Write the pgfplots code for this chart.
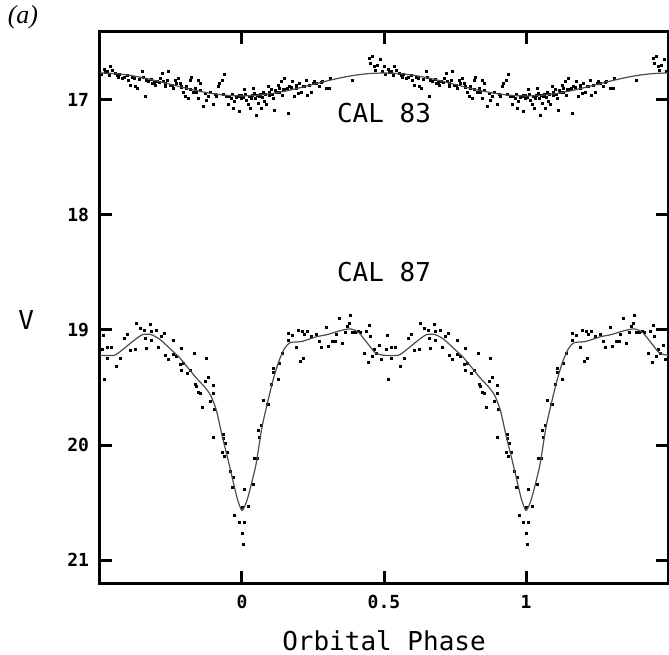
\documentclass[border=0pt]{standalone}
\usepackage{fontspec}
\setmainfont{DejaVu Sans Mono}
\newfontfamily\serifit{Liberation Serif}
\usepackage{pgfplots}
\usepackage{pgfplotstable}
\pgfplotsset{compat=1.18}

% one orbital cycle of each star, plotted twice (phase and phase+1)
\pgfplotstableread{
p m
-0.486 16.73
-0.463 16.71
-0.457 16.74
-0.474 16.75
-0.434 16.80
-0.422 16.81
-0.399 16.83
-0.393 16.87
-0.375 16.88
-0.369 16.90
-0.387 16.80
-0.352 16.75
-0.346 16.80
-0.340 16.97
-0.329 16.84
-0.317 16.86
-0.305 16.87
-0.299 16.84
-0.288 16.81
-0.282 16.77
-0.276 16.84
-0.270 16.88
-0.264 16.83
-0.259 16.75
-0.253 16.87
-0.241 16.90
-0.235 16.83
-0.224 16.81
-0.218 16.86
-0.212 16.88
-0.206 16.93
-0.201 16.97
-0.195 16.90
-0.189 16.99
-0.183 16.83
-0.177 16.80
-0.171 16.93
-0.159 16.93
-0.154 16.83
-0.148 16.86
-0.154 16.99
-0.136 17.06
-0.125 17.00
-0.119 16.97
-0.101 17.04
-0.084 16.88
-0.078 16.86
-0.070 16.83
-0.061 16.78
-0.055 16.97
-0.049 17.04
-0.038 16.99
-0.032 17.07
-0.026 17.01
-0.014 16.97
-0.008 17.10
-0.002 16.99
-0.001 16.96
0.010 16.91
0.016 17.00
0.022 17.04
0.028 17.07
0.034 16.99
0.040 16.90
0.045 16.94
0.051 17.13
0.057 17.03
0.063 16.97
0.069 17.07
0.075 16.93
0.080 17.01
0.086 17.04
0.092 16.88
0.098 16.96
0.104 16.91
0.110 16.99
0.115 17.09
0.121 16.93
0.127 16.87
0.133 16.90
0.139 16.84
0.144 16.96
0.150 16.81
0.156 16.91
0.162 17.12
0.168 16.88
0.179 16.84
0.185 16.97
0.191 16.87
0.197 16.94
0.203 16.86
0.209 16.93
0.220 16.88
0.226 16.83
0.232 16.96
0.238 16.87
0.244 16.93
0.255 16.84
0.261 16.86
0.273 16.88
0.284 16.84
0.296 16.90
0.308 16.90
0.311 16.81
0.389 16.83
0.448 16.64
0.453 16.68
0.459 16.62
0.465 16.71
0.477 16.70
0.488 16.65
0.500 16.71
-0.495 16.78
-0.480 16.76
-0.468 16.79
-0.445 16.77
-0.440 16.79
-0.430 16.78
-0.415 16.80
-0.405 16.79
-0.380 16.81
-0.360 16.82
-0.335 16.83
-0.320 16.82
-0.310 16.85
-0.290 16.85
-0.270 16.86
-0.245 16.87
-0.230 16.86
-0.215 16.89
-0.195 16.88
-0.180 16.91
-0.165 16.90
-0.145 16.92
-0.130 16.94
-0.110 16.93
-0.095 16.95
-0.090 16.97
-0.065 16.95
-0.045 16.97
-0.035 16.95
-0.020 16.98
-0.010 16.96
0.005 16.98
0.013 16.95
0.025 16.97
0.037 16.96
0.048 16.99
0.055 16.96
0.066 16.95
0.072 16.98
0.083 16.95
0.095 16.93
0.107 16.95
0.118 16.92
0.130 16.93
0.147 16.91
0.160 16.90
0.175 16.89
0.190 16.90
0.215 16.88
0.250 16.86
0.280 16.85
0.470 16.74
0.495 16.75
}\scatA

\pgfplotstableread{
p m
-0.490 19.17
-0.487 19.05
-0.485 19.43
-0.473 19.15
-0.473 19.25
-0.459 19.15
-0.444 19.32
-0.429 19.25
-0.415 19.07
-0.403 19.04
-0.392 19.18
-0.374 19.17
-0.371 18.94
-0.359 18.99
-0.345 19.00
-0.339 19.07
-0.336 19.16
-0.322 18.95
-0.318 19.01
-0.318 19.09
-0.301 19.00
-0.293 19.15
-0.284 19.06
-0.273 19.03
-0.269 19.22
-0.258 19.26
-0.243 19.09
-0.240 19.21
-0.231 19.23
-0.217 19.30
-0.215 19.35
-0.215 19.16
-0.205 19.29
-0.193 19.38
-0.182 19.35
-0.168 19.20
-0.164 19.47
-0.161 19.49
-0.153 19.54
-0.147 19.55
-0.141 19.67
-0.129 19.45
-0.124 19.25
-0.118 19.41
-0.112 19.62
-0.100 19.55
-0.100 19.48
-0.100 19.93
-0.098 19.69
-0.068 20.06
-0.065 19.91
-0.065 19.94
-0.063 20.10
-0.059 19.99
-0.053 20.06
-0.040 20.23
-0.034 20.37
-0.030 20.28
-0.025 20.61
-0.010 20.67
0.001 20.77
0.002 20.54
0.005 20.86
0.007 20.67
0.008 20.39
0.022 20.53
0.040 20.34
0.042 20.12
0.054 20.12
0.057 19.87
0.063 19.93
0.069 19.83
0.075 19.61
0.089 19.65
0.092 19.65
0.104 19.47
0.110 19.37
0.110 19.33
0.127 19.43
0.133 19.29
0.144 19.20
0.162 19.03
0.162 19.09
0.179 19.05
0.191 19.15
0.197 19.00
0.205 19.27
0.214 19.01
0.217 19.25
0.220 19.04
0.232 19.01
0.244 19.06
0.263 19.04
0.273 19.10
0.278 19.15
0.298 18.98
0.305 19.14
0.317 19.10
0.329 19.10
0.331 19.04
0.343 18.90
0.354 19.12
0.364 19.02
0.372 18.97
0.378 18.94
0.383 18.87
0.389 19.02
0.401 19.02
0.410 19.01
0.418 19.02
0.430 19.20
0.438 19.01
0.445 19.28
0.448 18.96
0.453 19.06
0.459 19.23
0.465 19.17
0.473 19.20
0.483 19.13
0.492 19.26
}\scatB

\pgfplotstableread{
p m
-0.50 16.765
-0.45 16.770
-0.40 16.784
-0.35 16.806
-0.30 16.834
-0.25 16.865
-0.20 16.896
-0.15 16.924
-0.10 16.946
-0.05 16.960
0.00 16.965
0.05 16.960
0.10 16.946
0.15 16.924
0.20 16.896
0.25 16.865
0.30 16.834
0.35 16.806
0.40 16.784
0.45 16.770
0.50 16.765
}\curveA

\pgfplotstableread{
p m
-0.50 19.22
-0.45 19.22
-0.42 19.17
-0.38 19.09
-0.35 19.04
-0.32 19.04
-0.29 19.08
-0.25 19.17
-0.22 19.24
-0.19 19.33
-0.16 19.42
-0.13 19.50
-0.11 19.57
-0.09 19.70
-0.07 19.92
-0.05 20.12
-0.03 20.33
-0.015 20.48
0.00 20.57
0.015 20.50
0.03 20.37
0.05 20.16
0.07 19.85
0.09 19.63
0.11 19.43
0.13 19.27
0.15 19.16
0.17 19.11
0.21 19.10
0.26 19.06
0.30 19.04
0.34 19.01
0.38 18.99
0.41 19.02
0.44 19.11
0.47 19.20
0.50 19.22
}\curveB

\begin{document}
\begin{tikzpicture}
\path[use as bounding box] (-50pt,-35.5pt) rectangle (284.5pt,291.5pt);
\begin{axis}[
    scale only axis,
    width=284pt, height=275.5pt,
    xmin=-0.5, xmax=1.5,
    ymin=16.409, ymax=21.2,
    y dir=reverse,
    clip mode=individual,
    xtick={0,0.5,1},
    ytick={17,18,19,20,21},
    tick align=inside,
    major tick length=6pt,
    every tick/.append style={black, line width=1.5pt},
    axis line style={line width=1.5pt},
    /pgf/number format/assume math mode=true,
    ticklabel style={font=\bfseries\fontsize{9}{10}\selectfont},
    xticklabel style={yshift=-2.5pt},
    yticklabel style={xshift=-2pt},
]
\addplot[only marks, mark=square*, mark size=0.5pt, black] table[x=p, y=m] {\scatA};
\addplot[only marks, mark=square*, mark size=0.5pt, black] table[x expr=\thisrow{p}+1, y=m] {\scatA};
\addplot[only marks, mark=square*, mark size=0.5pt, black] table[x=p, y=m] {\scatB};
\addplot[only marks, mark=square*, mark size=0.5pt, black] table[x expr=\thisrow{p}+1, y=m] {\scatB};

\addplot[no marks, black!70, line width=0.6pt, smooth] table[x=p, y=m] {\curveA};
\addplot[no marks, black!70, line width=0.6pt, smooth] table[x expr=\thisrow{p}+1, y=m] {\curveA};
\addplot[no marks, black!70, line width=0.6pt, smooth, tension=0.4] table[x=p, y=m] {\curveB};
\addplot[no marks, black!70, line width=0.6pt, smooth, tension=0.4] table[x expr=\thisrow{p}+1, y=m] {\curveB};

\node[font=\fontsize{13}{14}\selectfont] at (axis cs:0.5,17.11) {CAL 83};
\node[font=\fontsize{13}{14}\selectfont] at (axis cs:0.5,18.50) {CAL 87};
\node[font=\fontsize{13}{14}\selectfont] at (axis description cs:-0.130,0.477) {V};
\node[font=\fontsize{13}{14}\selectfont] at (axis description cs:0.5,-0.105) {Orbital Phase};
\node[font=\serifit\itshape\fontsize{13}{14}\selectfont] at (axis description cs:-0.1356,1.027) {(a)};
\end{axis}
\end{tikzpicture}
\end{document}
